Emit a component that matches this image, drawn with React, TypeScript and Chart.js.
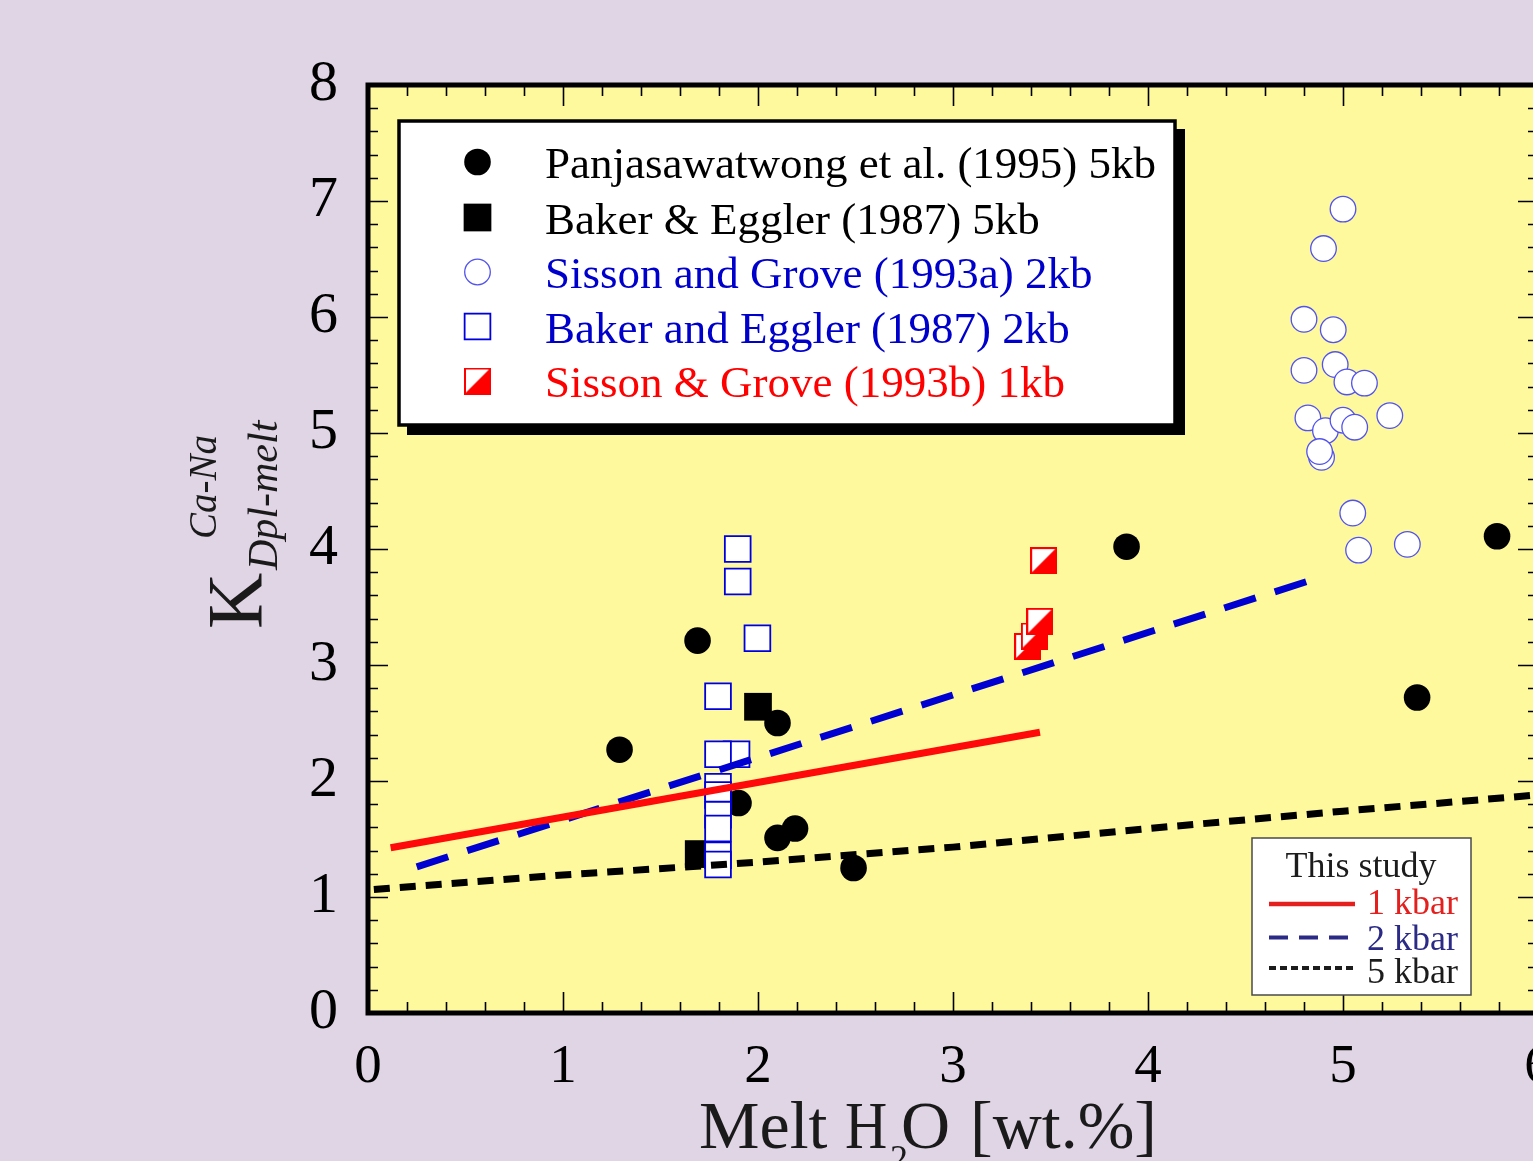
import React, { useEffect, useRef } from "react";
import { Chart, registerables } from "chart.js";

Chart.register(...registerables);

// ---------- data ----------
const panjaX = [1.29, 1.69, 2.1, 1.9, 2.1, 2.19, 2.49, 3.89, 5.79, 5.38];
const panjaY = [2.27, 3.21, 2.5, 1.81, 1.51, 1.59, 1.25, 4.02, 4.11, 2.72];

const baker5X = [2.0, 1.696];
const baker5Y = [2.64, 1.37];

const sisson2X = [5.0, 4.9, 4.8, 4.95, 4.8, 4.96, 5.02, 5.11, 4.82, 4.91, 5.0, 5.06, 5.24, 4.89, 4.88, 5.05, 5.08, 5.33];
const sisson2Y = [6.93, 6.59, 5.98, 5.89, 5.54, 5.59, 5.44, 5.43, 5.13, 5.02, 5.11, 5.05, 5.15, 4.79, 4.84, 4.31, 3.99, 4.04];

const baker2X = [1.896, 1.896, 1.997, 1.89, 1.795, 1.795, 1.795, 1.795, 1.795, 1.795, 1.795, 1.795];
const baker2Y = [4.0, 3.72, 3.23, 2.23, 2.73, 2.23, 1.95, 1.88, 1.71, 1.59, 1.36, 1.28];

const sisson1X = [3.383, 3.417, 3.445, 3.465];
const sisson1Y = [3.16, 3.25, 3.377, 3.9];

const line1X = [0.116, 3.446];
const line1Y = [1.425, 2.42];
const line2X = [0.25, 4.834];
const line2Y = [1.26, 3.73];
const line5X = [0.03, 1, 2, 3, 4, 5, 6];
const line5Y = [1.065, 1.19, 1.3, 1.43, 1.59, 1.74, 1.88];

const xMin = 0, xMax = 6, yMin = 0, yMax = 8;
const minorStep = 0.2;

const legendLabels = [
  "Panjasawatwong et al. (1995) 5kb",
  "Baker & Eggler (1987) 5kb",
  "Sisson and Grove (1993a) 2kb",
  "Baker and Eggler (1987) 2kb",
  "Sisson & Grove (1993b) 1kb",
];
const legendTextColors = ["#000000", "#000000", "#0000cc", "#0000cc", "#ff0000"];
const studyTitle = "This study";
const studyLabels = ["1 kbar", "2 kbar", "5 kbar"];
const studyTextColors = ["#e3201e", "#2b2a86", "#1c1c1c"];
const studyLineColors = ["#e3201e", "#2b2a86", "#1c1c1c"];
const studyDashes = [[], [19, 11], [7, 4]];

const xTitleParts = ["Melt", "H", "2", "O", "[wt.%]"];
const yTitleParts = ["K", "Dpl-melt", "Ca-Na"];

// ---------- style ----------
const W = 1560;
const H = 1161;
const PAGE_BG = "#e0d5e5";
const PLOT_BG = "#fef99c";
const SERIF = '"Liberation Serif", "Times New Roman", serif';

function toPts(xs: number[], ys: number[]) {
  return xs.map((x, i) => ({ x, y: ys[i] }));
}

function makeHalfSquare(size: number) {
  const c = document.createElement("canvas");
  c.width = size;
  c.height = size;
  const g = c.getContext("2d")!;
  g.fillStyle = "#ffffff";
  g.fillRect(0, 0, size, size);
  g.fillStyle = "#ff0000";
  g.beginPath();
  g.moveTo(size, 0);
  g.lineTo(size, size);
  g.lineTo(0, size);
  g.closePath();
  g.fill();
  g.strokeStyle = "#ff0000";
  g.lineWidth = 2;
  g.strokeRect(1, 1, size - 2, size - 2);
  return c;
}

export default function App() {
  const ref = useRef<HTMLCanvasElement | null>(null);

  useEffect(() => {
    const canvas = ref.current!;
    const half = makeHalfSquare(27);

    const framePlugin = {
      id: "framePlugin",
      beforeDraw(chart: any) {
        const { ctx, chartArea: a } = chart;
        ctx.save();
        ctx.fillStyle = PAGE_BG;
        ctx.fillRect(0, 0, chart.width, chart.height);
        ctx.fillStyle = PLOT_BG;
        ctx.fillRect(a.left, a.top, a.right - a.left, a.bottom - a.top);
        ctx.restore();
      },
      afterDatasetsDraw(chart: any) {
        const { ctx, chartArea: a } = chart;
        const xs = chart.scales.x;
        const ys = chart.scales.y;
        ctx.save();
        ctx.strokeStyle = "#000";
        ctx.lineWidth = 1.6;
        const nx = Math.round((xMax - xMin) / minorStep);
        for (let i = 0; i <= nx; i++) {
          const v = xMin + i * minorStep;
          const px = Math.round(xs.getPixelForValue(v)) + 0.5;
          const len = i % 5 === 0 ? 21 : 11;
          ctx.beginPath();
          ctx.moveTo(px, a.bottom);
          ctx.lineTo(px, a.bottom - len);
          ctx.moveTo(px, a.top);
          ctx.lineTo(px, a.top + len);
          ctx.stroke();
        }
        const ny = Math.round((yMax - yMin) / minorStep);
        for (let i = 0; i <= ny; i++) {
          const v = yMin + i * minorStep;
          const py = Math.round(ys.getPixelForValue(v)) + 0.5;
          const len = i % 5 === 0 ? 20 : 10;
          ctx.beginPath();
          ctx.moveTo(a.left, py);
          ctx.lineTo(a.left + len, py);
          ctx.moveTo(a.right, py);
          ctx.lineTo(a.right - len, py);
          ctx.stroke();
        }
        ctx.lineWidth = 5;
        ctx.strokeRect(a.left, a.top, a.right - a.left, a.bottom - a.top);
        ctx.restore();
      },
      afterDraw(chart: any) {
        const { ctx } = chart;
        const ds = chart.data.datasets;
        ctx.save();

        // ---- main legend ----
        const bx = 399, by = 121, bw = 776, bh = 304;
        ctx.fillStyle = "#000";
        ctx.fillRect(bx + 8, by + 8, bw + 2, bh + 2);
        ctx.fillStyle = "#fff";
        ctx.fillRect(bx, by, bw, bh);
        ctx.strokeStyle = "#000";
        ctx.lineWidth = 3.5;
        ctx.strokeRect(bx, by, bw, bh);

        const legendIdx = [6, 7, 5, 3, 4];
        const rowY = [162, 217.5, 272, 326.5, 381];
        const mx = 477.5;
        ctx.font = `45px ${SERIF}`;
        ctx.textAlign = "left";
        ctx.textBaseline = "alphabetic";
        legendIdx.forEach((di, i) => {
          const d = ds[di];
          const cy = rowY[i];
          const style = d.pointStyle;
          if (style === "circle") {
            const r = d.pointRadius;
            ctx.beginPath();
            ctx.arc(mx, cy, r, 0, Math.PI * 2);
            ctx.fillStyle = d.pointBackgroundColor;
            ctx.fill();
            if (d.pointBorderWidth > 0) {
              ctx.lineWidth = d.pointBorderWidth;
              ctx.strokeStyle = d.pointBorderColor;
              ctx.stroke();
            }
          } else if (style === "rect") {
            const s = d.pointRadius * Math.SQRT1_2;
            ctx.fillStyle = d.pointBackgroundColor;
            ctx.fillRect(mx - s, cy - s, 2 * s, 2 * s);
            if (d.pointBorderWidth > 0) {
              ctx.lineWidth = d.pointBorderWidth;
              ctx.strokeStyle = d.pointBorderColor;
              ctx.strokeRect(mx - s, cy - s, 2 * s, 2 * s);
            }
          } else {
            ctx.drawImage(style, mx - style.width / 2, cy - style.height / 2);
          }
          ctx.fillStyle = legendTextColors[i];
          ctx.fillText(legendLabels[i], 545, cy + 16);
        });

        // ---- "This study" legend ----
        const sx = 1252, sy = 838, sw = 219, sh = 157;
        ctx.fillStyle = "#fff";
        ctx.fillRect(sx, sy, sw, sh);
        ctx.strokeStyle = "#4a4a4a";
        ctx.lineWidth = 1.5;
        ctx.strokeRect(sx, sy, sw, sh);
        ctx.font = `36px ${SERIF}`;
        ctx.fillStyle = "#1c1c1c";
        ctx.textAlign = "center";
        ctx.fillText(studyTitle, 1361, 877);
        ctx.textAlign = "left";
        const lineRows = [904, 937.5, 968];
        const textRows = [914, 950, 983];
        studyLabels.forEach((lab, i) => {
          ctx.beginPath();
          ctx.setLineDash(studyDashes[i]);
          ctx.strokeStyle = studyLineColors[i];
          ctx.lineWidth = i === 0 ? 4.5 : 4;
          ctx.moveTo(1269, lineRows[i]);
          ctx.lineTo(1355, lineRows[i]);
          ctx.stroke();
          ctx.setLineDash([]);
          ctx.fillStyle = studyTextColors[i];
          ctx.fillText(lab, 1367, textRows[i]);
        });

        // ---- x title ----
        ctx.fillStyle = "#1a1a1a";
        ctx.font = `68px ${SERIF}`;
        ctx.textAlign = "left";
        ctx.fillText(xTitleParts[0], 699, 1148);
        // H slightly condensed to match the reference face
        ctx.save();
        ctx.translate(845, 1148);
        ctx.scale(0.86, 1);
        ctx.fillText(xTitleParts[1], 0, 0);
        ctx.restore();
        ctx.fillText(xTitleParts[3], 901, 1148);
        ctx.textAlign = "right";
        ctx.fillText(xTitleParts[4], 1157, 1148);
        ctx.textAlign = "left";
        ctx.font = `36px ${SERIF}`;
        ctx.fillText(xTitleParts[2], 890, 1170);

        // ---- y title (rotated) ----
        ctx.rotate(-Math.PI / 2);
        ctx.font = `78px ${SERIF}`;
        ctx.fillText(yTitleParts[0], -629, 261);
        ctx.font = `italic 42px ${SERIF}`;
        ctx.fillText(yTitleParts[1], -570, 277);
        ctx.font = `italic 39px ${SERIF}`;
        ctx.fillText(yTitleParts[2], -539, 216);
        ctx.restore();
      },
    };

    const chart = new Chart(canvas, {
      type: "scatter",
      data: {
        datasets: [
          {
            label: studyLabels[0],
            data: toPts(line1X, line1Y),
            showLine: true,
            borderColor: "#ff0a0a",
            borderWidth: 7,
            pointRadius: 0,
            borderCapStyle: "butt",
          },
          {
            label: studyLabels[1],
            data: toPts(line2X, line2Y),
            showLine: true,
            borderColor: "#0000d2",
            borderWidth: 7,
            borderDash: [33, 20],
            pointRadius: 0,
          },
          {
            label: studyLabels[2],
            data: toPts(line5X, line5Y),
            showLine: true,
            borderColor: "#000000",
            borderWidth: 7,
            borderDash: [16, 10],
            pointRadius: 0,
          },
          {
            label: legendLabels[3],
            data: toPts(baker2X, baker2Y),
            pointStyle: "rect",
            pointRadius: 18.2,
            pointBackgroundColor: "#ffffff",
            pointBorderColor: "#0000dd",
            pointBorderWidth: 1.8,
          },
          {
            label: legendLabels[4],
            data: toPts(sisson1X, sisson1Y),
            pointStyle: half,
            pointRadius: 13,
          },
          {
            label: legendLabels[2],
            data: toPts(sisson2X, sisson2Y),
            pointStyle: "circle",
            pointRadius: 12.8,
            pointBackgroundColor: "#ffffff",
            pointBorderColor: "#5252ee",
            pointBorderWidth: 1.3,
          },
          {
            label: legendLabels[0],
            data: toPts(panjaX, panjaY),
            pointStyle: "circle",
            pointRadius: 13.3,
            pointBackgroundColor: "#000000",
            pointBorderColor: "#000000",
            pointBorderWidth: 0,
          },
          {
            label: legendLabels[1],
            data: toPts(baker5X, baker5Y),
            pointStyle: "rect",
            pointRadius: 19.6,
            pointBackgroundColor: "#000000",
            pointBorderColor: "#000000",
            pointBorderWidth: 0,
          },
        ],
      } as any,
      options: {
        responsive: false,
        animation: false,
        events: [],
        layout: { padding: { top: 85, right: W - 1538, left: 0, bottom: 0 } },
        plugins: {
          legend: { display: false },
          tooltip: { enabled: false },
        },
        scales: {
          x: {
            type: "linear",
            min: xMin,
            max: xMax,
            grid: { display: false, drawTicks: false },
            border: { display: false },
            ticks: {
              stepSize: 1,
              padding: 22,
              color: "#000",
              font: { family: SERIF, size: 55 },
            },
            afterFit: (s: any) => {
              s.height = H - 1013;
              s.paddingLeft = 0;
              s.paddingRight = 0;
            },
          },
          y: {
            type: "linear",
            min: yMin,
            max: yMax,
            grid: { display: false, drawTicks: false },
            border: { display: false },
            ticks: {
              stepSize: 1,
              padding: 30,
              color: "#000",
              font: { family: SERIF, size: 58 },
            },
            afterFit: (s: any) => {
              s.width = 368;
              s.paddingTop = 0;
              s.paddingBottom = 0;
            },
          },
        },
      } as any,
      plugins: [framePlugin as any],
    });

    return () => chart.destroy();
  }, []);

  return (
    <div
      style={{
        position: "fixed",
        left: 0,
        top: 0,
        width: 1533,
        height: 1161,
        overflow: "hidden",
        background: PAGE_BG,
      }}
    >
      <canvas ref={ref} width={W} height={H} style={{ width: W, height: H, display: "block" }} />
    </div>
  );
}
